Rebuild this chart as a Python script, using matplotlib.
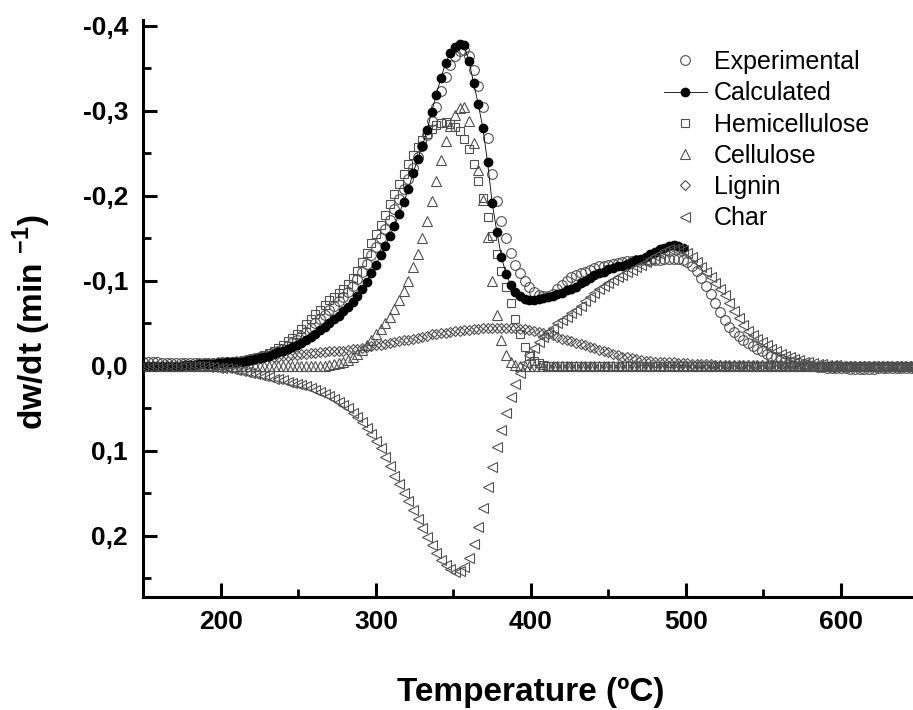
import matplotlib
matplotlib.use("Agg")
import matplotlib.pyplot as plt
from matplotlib.ticker import MultipleLocator, FuncFormatter

plt.rcParams["font.family"] = ["Liberation Sans", "DejaVu Sans"]
plt.rcParams["font.weight"] = "bold"
plt.rcParams["mathtext.fontset"] = "custom"
plt.rcParams["mathtext.rm"] = "Liberation Sans"
plt.rcParams["mathtext.bf"] = "Liberation Sans:bold"

# temperature grid (deg C), shared by all series
temperature = [
    150, 153, 156, 159, 162, 165, 168, 171, 174, 177,
    180, 183, 186, 189, 192, 195, 198, 201, 204, 207,
    210, 213, 216, 219, 222, 225, 228, 231, 234, 237,
    240, 243, 246, 249, 252, 255, 258, 261, 264, 267,
    270, 273, 276, 279, 282, 285, 288, 291, 294, 297,
    300, 303, 306, 309, 312, 315, 318, 321, 324, 327,
    330, 333, 336, 339, 342, 345, 348, 351, 354, 357,
    360, 363, 366, 369, 372, 375, 378, 381, 384, 387,
    390, 393, 396, 399, 402, 405, 408, 411, 414, 417,
    420, 423, 426, 429, 432, 435, 438, 441, 444, 447,
    450, 453, 456, 459, 462, 465, 468, 471, 474, 477,
    480, 483, 486, 489, 492, 495, 498, 501, 504, 507,
    510, 513, 516, 519, 522, 525, 528, 531, 534, 537,
    540, 543, 546, 549, 552, 555, 558, 561, 564, 567,
    570, 573, 576, 579, 582, 585, 588, 591, 594, 597,
    600, 603, 606, 609, 612, 615, 618, 621, 624, 627,
    630, 633, 636, 639, 642, 645, 648,
]

experimental = [
    -0.004, -0.004, -0.004, -0.004, -0.003, -0.003, -0.003, -0.003, -0.003, -0.003,
    -0.003, -0.003, -0.003, -0.003, -0.003, -0.003, -0.003, -0.004, -0.004, -0.005,
    -0.005, -0.006, -0.007, -0.008, -0.009, -0.010, -0.012, -0.014, -0.016, -0.018,
    -0.020, -0.023, -0.027, -0.031, -0.035, -0.040, -0.045, -0.050, -0.055, -0.060,
    -0.066, -0.071, -0.076, -0.081, -0.087, -0.094, -0.102, -0.111, -0.120, -0.130,
    -0.140, -0.150, -0.161, -0.172, -0.184, -0.196, -0.208, -0.220, -0.233, -0.246,
    -0.259, -0.272, -0.288, -0.305, -0.323, -0.340, -0.354, -0.364, -0.370, -0.372,
    -0.365, -0.348, -0.329, -0.305, -0.268, -0.226, -0.194, -0.170, -0.150, -0.133,
    -0.119, -0.109, -0.100, -0.093, -0.087, -0.083, -0.082, -0.082, -0.085, -0.090,
    -0.095, -0.100, -0.104, -0.107, -0.109, -0.111, -0.113, -0.115, -0.117, -0.118,
    -0.119, -0.120, -0.121, -0.122, -0.123, -0.123, -0.124, -0.124, -0.125, -0.125,
    -0.125, -0.125, -0.126, -0.126, -0.126, -0.126, -0.125, -0.122, -0.118, -0.112,
    -0.103, -0.094, -0.084, -0.074, -0.063, -0.054, -0.046, -0.040, -0.035, -0.031,
    -0.027, -0.023, -0.020, -0.017, -0.014, -0.012, -0.010, -0.008, -0.006, -0.005,
    -0.004, -0.003, -0.002, -0.001, 0.000, 0.001, 0.001, 0.002, 0.002, 0.003,
    0.003, 0.003, 0.004, 0.004, 0.004, 0.004, 0.004, 0.004, 0.003, 0.003,
    0.003, 0.003, 0.002, 0.002, 0.002, 0.002, 0.002,
]

# calculated curve only runs up to 498 C
calculated = [
    0.000, 0.000, 0.000, 0.000, 0.000, 0.000, 0.000, 0.000, 0.000, -0.001,
    -0.001, -0.001, -0.002, -0.002, -0.002, -0.002, -0.003, -0.003, -0.004, -0.004,
    -0.005, -0.005, -0.006, -0.007, -0.008, -0.009, -0.011, -0.012, -0.014, -0.016,
    -0.018, -0.020, -0.022, -0.024, -0.027, -0.030, -0.034, -0.038, -0.042, -0.046,
    -0.051, -0.055, -0.059, -0.064, -0.069, -0.075, -0.082, -0.090, -0.099, -0.109,
    -0.119, -0.130, -0.141, -0.153, -0.165, -0.179, -0.193, -0.208, -0.227, -0.243,
    -0.259, -0.277, -0.299, -0.319, -0.339, -0.356, -0.368, -0.375, -0.379, -0.377,
    -0.359, -0.333, -0.308, -0.280, -0.240, -0.192, -0.158, -0.128, -0.108, -0.095,
    -0.087, -0.082, -0.079, -0.078, -0.078, -0.079, -0.080, -0.081, -0.082, -0.084,
    -0.086, -0.089, -0.091, -0.093, -0.097, -0.100, -0.103, -0.107, -0.109, -0.111,
    -0.114, -0.115, -0.117, -0.118, -0.120, -0.122, -0.124, -0.126, -0.128, -0.132,
    -0.134, -0.137, -0.139, -0.141, -0.142, -0.141, -0.139,
]

hemicellulose = [
    0.000, 0.000, 0.000, 0.000, 0.000, 0.000, 0.000, 0.000, 0.000, 0.000,
    0.000, 0.000, 0.000, 0.000, 0.000, 0.000, -0.001, -0.001, -0.002, -0.003,
    -0.004, -0.005, -0.006, -0.007, -0.009, -0.011, -0.013, -0.015, -0.018, -0.021,
    -0.025, -0.029, -0.033, -0.038, -0.043, -0.049, -0.055, -0.061, -0.066, -0.072,
    -0.077, -0.081, -0.086, -0.091, -0.096, -0.103, -0.112, -0.122, -0.133, -0.144,
    -0.155, -0.166, -0.178, -0.190, -0.202, -0.214, -0.226, -0.237, -0.248, -0.258,
    -0.266, -0.273, -0.279, -0.283, -0.286, -0.287, -0.285, -0.281, -0.276, -0.267,
    -0.255, -0.238, -0.218, -0.197, -0.175, -0.153, -0.132, -0.112, -0.093, -0.074,
    -0.055, -0.037, -0.022, -0.012, -0.006, -0.003, -0.001, 0.000, 0.000, 0.000,
    0.000, 0.000, 0.000, 0.000, 0.000, 0.000, 0.000, 0.000, 0.000, 0.000,
    0.000, 0.000, 0.000, 0.000, 0.000, 0.000, 0.000, 0.000, 0.000, 0.000,
    0.000, 0.000, 0.000, 0.000, 0.000, 0.000, 0.000, 0.000, 0.000, 0.000,
    0.000, 0.000, 0.000, 0.000, 0.000, 0.000, 0.000, 0.000, 0.000, 0.000,
    0.000, 0.000, 0.000, 0.000, 0.000, 0.000, 0.000, 0.000, 0.000, 0.000,
    0.000, 0.000, 0.000, 0.000, 0.000, 0.000, 0.000, 0.000, 0.000, 0.000,
    0.000, 0.000, 0.000, 0.000, 0.000, 0.000, 0.000, 0.000, 0.000, 0.000,
    0.000, 0.000, 0.000, 0.000, 0.000, 0.000, 0.000,
]

cellulose = [
    0.000, 0.000, 0.000, 0.000, 0.000, 0.000, 0.000, 0.000, 0.000, 0.000,
    0.000, 0.000, 0.000, 0.000, 0.000, 0.000, 0.000, 0.000, 0.000, 0.000,
    0.000, 0.000, 0.000, 0.000, 0.000, 0.000, 0.000, 0.000, 0.000, 0.000,
    0.000, 0.000, 0.000, 0.000, 0.000, 0.000, 0.000, 0.000, 0.000, 0.000,
    -0.001, -0.002, -0.003, -0.005, -0.007, -0.010, -0.014, -0.019, -0.025, -0.031,
    -0.037, -0.043, -0.050, -0.058, -0.067, -0.077, -0.088, -0.100, -0.116, -0.132,
    -0.150, -0.170, -0.194, -0.218, -0.242, -0.264, -0.282, -0.295, -0.303, -0.304,
    -0.288, -0.262, -0.230, -0.195, -0.152, -0.100, -0.060, -0.031, -0.013, -0.004,
    -0.001, 0.000, 0.000, 0.000, 0.000, 0.000, 0.000, 0.000, 0.000, 0.000,
    0.000, 0.000, 0.000, 0.000, 0.000, 0.000, 0.000, 0.000, 0.000, 0.000,
    0.000, 0.000, 0.000, 0.000, 0.000, 0.000, 0.000, 0.000, 0.000, 0.000,
    0.000, 0.000, 0.000, 0.000, 0.000, 0.000, 0.000, 0.000, 0.000, 0.000,
    0.000, 0.000, 0.000, 0.000, 0.000, 0.000, 0.000, 0.000, 0.000, 0.000,
    0.000, 0.000, 0.000, 0.000, 0.000, 0.000, 0.000, 0.000, 0.000, 0.000,
    0.000, 0.000, 0.000, 0.000, 0.000, 0.000, 0.000, 0.000, 0.000, 0.000,
    0.000, 0.000, 0.000, 0.000, 0.000, 0.000, 0.000, 0.000, 0.000, 0.000,
    0.000, 0.000, 0.000, 0.000, 0.000, 0.000, 0.000,
]

lignin = [
    0.000, 0.000, 0.000, 0.000, 0.000, 0.000, 0.000, 0.000, 0.000, -0.001,
    -0.001, -0.001, -0.002, -0.002, -0.003, -0.003, -0.004, -0.004, -0.005, -0.005,
    -0.006, -0.006, -0.007, -0.008, -0.008, -0.009, -0.010, -0.010, -0.011, -0.011,
    -0.012, -0.012, -0.013, -0.013, -0.014, -0.014, -0.015, -0.015, -0.016, -0.016,
    -0.017, -0.017, -0.018, -0.018, -0.019, -0.020, -0.020, -0.021, -0.022, -0.023,
    -0.024, -0.025, -0.026, -0.027, -0.028, -0.029, -0.030, -0.031, -0.032, -0.033,
    -0.034, -0.035, -0.037, -0.038, -0.039, -0.039, -0.040, -0.041, -0.041, -0.042,
    -0.042, -0.043, -0.043, -0.044, -0.044, -0.044, -0.045, -0.045, -0.045, -0.044,
    -0.044, -0.043, -0.043, -0.042, -0.041, -0.040, -0.039, -0.037, -0.036, -0.034,
    -0.032, -0.031, -0.029, -0.027, -0.026, -0.024, -0.022, -0.021, -0.019, -0.017,
    -0.016, -0.014, -0.013, -0.011, -0.010, -0.009, -0.008, -0.007, -0.006, -0.006,
    -0.005, -0.005, -0.004, -0.004, -0.004, -0.003, -0.003, -0.003, -0.002, -0.002,
    -0.002, -0.002, -0.002, -0.001, -0.001, -0.001, -0.001, -0.001, -0.001, -0.001,
    -0.001, -0.001, -0.001, -0.001, -0.001, -0.001, -0.001, -0.001, -0.001, -0.001,
    -0.001, 0.000, 0.000, 0.000, 0.000, 0.000, 0.000, 0.000, 0.000, 0.000,
    0.000, 0.000, 0.000, 0.000, 0.000, 0.000, 0.000, 0.000, 0.000, 0.000,
    0.000, 0.000, 0.000, 0.000, 0.000, 0.000, 0.000,
]

char = [
    0.000, 0.000, 0.000, 0.000, 0.000, 0.000, 0.000, 0.000, 0.000, 0.000,
    0.000, 0.000, 0.000, 0.000, 0.001, 0.001, 0.002, 0.002, 0.003, 0.004,
    0.005, 0.006, 0.007, 0.008, 0.009, 0.011, 0.012, 0.013, 0.015, 0.016,
    0.017, 0.019, 0.020, 0.021, 0.023, 0.024, 0.026, 0.028, 0.031, 0.033,
    0.036, 0.039, 0.042, 0.046, 0.050, 0.055, 0.060, 0.066, 0.073, 0.080,
    0.088, 0.097, 0.107, 0.118, 0.129, 0.139, 0.149, 0.159, 0.169, 0.180,
    0.191, 0.201, 0.211, 0.220, 0.228, 0.234, 0.239, 0.242, 0.241, 0.236,
    0.226, 0.210, 0.190, 0.167, 0.143, 0.119, 0.096, 0.075, 0.055, 0.037,
    0.021, 0.008, -0.003, -0.013, -0.021, -0.028, -0.034, -0.040, -0.045, -0.050,
    -0.054, -0.058, -0.062, -0.066, -0.071, -0.076, -0.081, -0.086, -0.090, -0.094,
    -0.098, -0.101, -0.104, -0.107, -0.110, -0.113, -0.116, -0.119, -0.122, -0.126,
    -0.129, -0.132, -0.135, -0.137, -0.138, -0.138, -0.136, -0.133, -0.128, -0.122,
    -0.116, -0.110, -0.104, -0.098, -0.091, -0.083, -0.074, -0.065, -0.056, -0.048,
    -0.041, -0.036, -0.032, -0.028, -0.024, -0.020, -0.017, -0.014, -0.012, -0.010,
    -0.008, -0.007, -0.005, -0.004, -0.003, -0.002, -0.002, -0.001, -0.001, -0.001,
    0.000, 0.000, 0.000, 0.000, 0.000, 0.000, 0.000, 0.000, 0.000, 0.000,
    0.000, 0.000, 0.000, 0.000, 0.000, 0.000, 0.000,
]

grey = "#505050"

fig = plt.figure(figsize=(9.13, 7.10), dpi=100)
ax = fig.add_axes([0.157, 0.159, 0.849, 0.813])

open_style = dict(ls="none", mfc="none", mec=grey, mew=0.8)
ax.plot(temperature, experimental, marker="o", ms=7, label="Experimental",
        zorder=2, **open_style)
ax.plot(temperature[:len(calculated)], calculated, "-", color="k", lw=0.6,
        marker="o", ms=6, mfc="k", mec="k", label="Calculated", zorder=6)
ax.plot(temperature, hemicellulose, marker="s", ms=6, label="Hemicellulose",
        zorder=3, **open_style)
ax.plot(temperature, cellulose, marker="^", ms=7, label="Cellulose",
        zorder=4, **open_style)
ax.plot(temperature, lignin, marker="D", ms=5.3, label="Lignin",
        zorder=5, **open_style)
ax.plot(temperature, char, marker="<", ms=7, label="Char",
        zorder=7, **open_style)

ax.set_xlim(150, 650)
ax.set_ylim(0.272, -0.407)

ax.xaxis.set_major_locator(MultipleLocator(100))
ax.xaxis.set_minor_locator(MultipleLocator(50))
ax.yaxis.set_major_locator(MultipleLocator(0.1))
ax.yaxis.set_minor_locator(MultipleLocator(0.05))


def comma_fmt(v, pos):
    if abs(v) < 1e-9:
        return "0,0"
    return f"{v:.1f}".replace(".", ",")


ax.yaxis.set_major_formatter(FuncFormatter(comma_fmt))

for side in ["top", "right"]:
    ax.spines[side].set_visible(False)
for side in ["left", "bottom"]:
    ax.spines[side].set_linewidth(2.2)

ax.tick_params(which="major", direction="in", length=10, width=2.2,
               labelsize=19)
ax.tick_params(which="minor", direction="in", length=6, width=2.0)
ax.tick_params(axis="x", which="major", pad=9)
ax.tick_params(axis="y", which="major", pad=11)

fig.text(531 / 913, 1 - 692 / 710, "Temperature (ºC)", ha="center",
         va="center", fontsize=24, fontweight="bold")
fig.text(32 / 913, 1 - 322 / 710, r"dw/dt (min $^{\mathbf{-1}}$)",
         ha="center", va="center", rotation=90, fontsize=24,
         fontweight="bold")

ax.legend(loc="upper left", bbox_to_anchor=(664 / 913, 1 - 50 / 710),
          bbox_transform=fig.transFigure, frameon=False,
          prop={"size": 18, "weight": "normal"}, handlelength=1.7,
          handletextpad=0.3, labelspacing=0.29, borderpad=0,
          borderaxespad=0, numpoints=1)

fig.savefig("out.png", dpi=100)
